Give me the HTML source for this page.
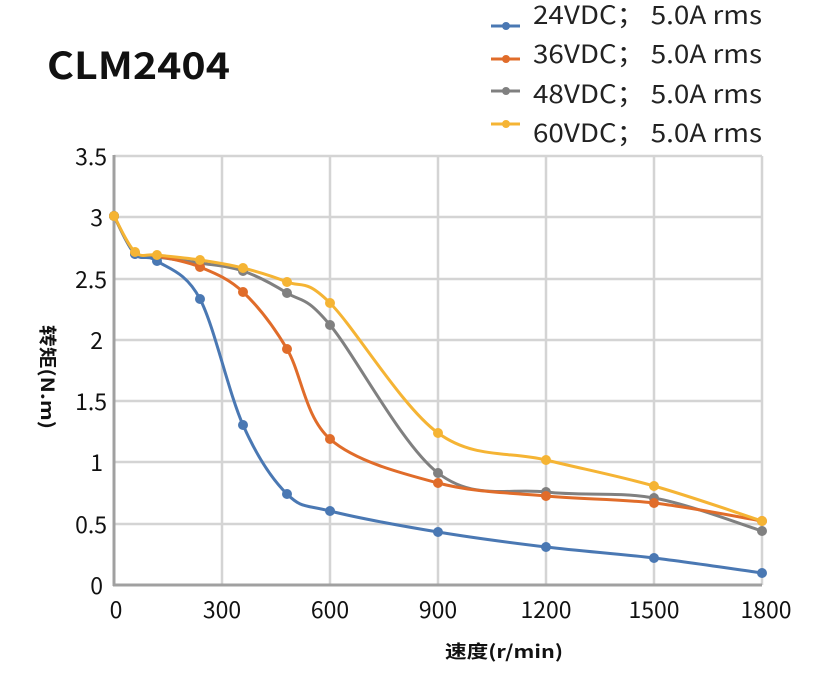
<!DOCTYPE html>
<html><head><meta charset="utf-8"><style>
html,body{margin:0;padding:0;background:#fff;}
svg{display:block;font-family:"Noto Sans CJK SC","Liberation Sans",sans-serif;}
</style></head><body>
<svg id="s" width="831" height="690" viewBox="0 0 831 690" xmlns="http://www.w3.org/2000/svg">
<rect width="831" height="690" fill="#fff"/>
<text x="47" y="79" font-size="37" font-weight="bold" fill="#111" textLength="183" lengthAdjust="spacingAndGlyphs">CLM2404</text>
<g stroke="#d4d4d4" stroke-width="2.5">
<line x1="114" y1="156" x2="762" y2="156"/><line x1="114" y1="217" x2="762" y2="217"/>
<line x1="114" y1="279" x2="762" y2="279"/><line x1="114" y1="340" x2="762" y2="340"/>
<line x1="114" y1="401" x2="762" y2="401"/><line x1="114" y1="462" x2="762" y2="462"/>
<line x1="114" y1="524" x2="762" y2="524"/>
<line x1="222" y1="156" x2="222" y2="585"/><line x1="330" y1="156" x2="330" y2="585"/>
<line x1="438" y1="156" x2="438" y2="585"/><line x1="546" y1="156" x2="546" y2="585"/>
<line x1="654" y1="156" x2="654" y2="585"/><line x1="762" y1="156" x2="762" y2="585"/>
</g>
<g stroke="#a0a0a0" stroke-width="3"><line x1="114" y1="155" x2="114" y2="586"/><line x1="113" y1="585" x2="762" y2="585"/></g>
<g font-size="23" fill="#111" text-anchor="end">
<text x="107" y="165">3.5</text><text x="103" y="226">3</text><text x="107" y="288">2.5</text>
<text x="103" y="349">2</text><text x="107" y="410">1.5</text><text x="103" y="471">1</text>
<text x="107" y="533">0.5</text><text x="103" y="594">0</text>
</g>
<g font-size="23" fill="#111" text-anchor="middle">
<text x="116" y="618">0</text><text x="222" y="618">300</text><text x="330" y="618">600</text>
<text x="438" y="618">900</text><text x="546" y="618">1200</text><text x="654" y="618">1500</text><text x="766" y="618">1800</text>
</g>
<text x="504" y="658" font-size="18" font-weight="bold" text-anchor="middle" fill="#111" textLength="118" lengthAdjust="spacingAndGlyphs">速度(r/min)</text>
<text transform="translate(41,377) rotate(90)" font-size="18" font-weight="bold" text-anchor="middle" fill="#111" textLength="104" lengthAdjust="spacingAndGlyphs">转矩(N.m)</text>
<g id="series"></g>
<g font-size="25" fill="#222">
<line x1="491" y1="26" x2="520" y2="26" stroke="#4a78b3" stroke-width="3"/><circle cx="506" cy="26" r="4" fill="#4a78b3"/>
<text x="533" y="24" textLength="229" lengthAdjust="spacingAndGlyphs">24VDC；  5.0A rms</text>
<line x1="491" y1="59" x2="520" y2="59" stroke="#e06c2a" stroke-width="3"/><circle cx="506" cy="59" r="4" fill="#e06c2a"/>
<text x="533" y="63" textLength="229" lengthAdjust="spacingAndGlyphs">36VDC；  5.0A rms</text>
<line x1="491" y1="91" x2="520" y2="91" stroke="#808080" stroke-width="3"/><circle cx="506" cy="91" r="4" fill="#808080"/>
<text x="533" y="103" textLength="229" lengthAdjust="spacingAndGlyphs">48VDC；  5.0A rms</text>
<line x1="491" y1="124" x2="520" y2="124" stroke="#f5b434" stroke-width="3"/><circle cx="506" cy="124" r="4" fill="#f5b434"/>
<text x="533" y="142" textLength="229" lengthAdjust="spacingAndGlyphs">60VDC；  5.0A rms</text>
</g>
</svg>
<script>
var xs=[114,135,157,200,243,287,330,438,546,654,762];
var S=[
["#808080",[216,254,257,263,271,293,325,473,492,498,531]],
["#e06c2a",[216,253,256,267,292,349,439,483,496,503,521]],
["#4a78b3",[216,254,261,299,425,494,511,532,547,558,573]],
["#f5b434",[216,252,255,260,268,282,303,433,460,486,521]]];
var g=document.getElementById('series'),h="";
S.forEach(function(s){
 var c=s[0],ys=s[1],p=xs.map(function(x,i){return [x,ys[i]];});
 var d="M"+p[0][0]+","+p[0][1];
 for(var i=0;i<p.length-1;i++){
  var p0=p[Math.max(0,i-1)],p1=p[i],p2=p[i+1],p3=p[Math.min(p.length-1,i+2)],t=6;
  d+=" C"+(p1[0]+(p2[0]-p0[0])/t)+","+(p1[1]+(p2[1]-p0[1])/t)+" "+(p2[0]-(p3[0]-p1[0])/t)+","+(p2[1]-(p3[1]-p1[1])/t)+" "+p2[0]+","+p2[1];
 }
 h+='<path d="'+d+'" fill="none" stroke="'+c+'" stroke-width="3"/>';
 p.forEach(function(q){h+='<circle cx="'+q[0]+'" cy="'+q[1]+'" r="5" fill="'+c+'"/>';});
});
g.innerHTML=h;
</script>
</body></html>
